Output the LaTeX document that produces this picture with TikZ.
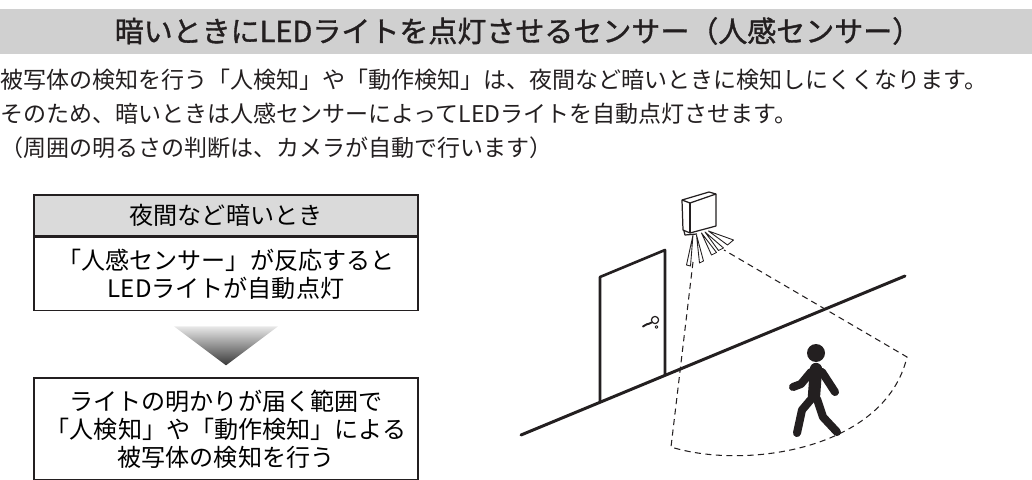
\documentclass[tikz,border=0pt]{standalone}
\usepackage{fontspec}
\setmainfont{Noto Sans CJK JP}
\newfontfamily\headfont{Noto Sans CJK JP}[FakeBold=1.2]
\usetikzlibrary{positioning}
\definecolor{bargray}{RGB}{208,208,208}
\definecolor{headgray}{RGB}{218,218,218}
\definecolor{ink}{RGB}{35,31,32}
\tikzset{flowbox/.style={draw=ink,line width=0.9pt,minimum width=7.68cm,align=center,inner sep=0pt,
		font=\fontsize{13.7}{16}\selectfont},
	 bodytext/.style={anchor=west,inner sep=0pt,text=ink,font=\fontsize{13.1}{16}\selectfont},
	 wall/.style={ink,line width=1.5pt,line cap=round,line join=round},
	 thinline/.style={ink,line width=0.7pt,line join=round},
	 beam/.style={ink,line width=0.5pt,fill=white,line join=round},
	 zone/.style={ink,line width=0.6pt,dash pattern=on 3.5pt off 2.5pt},
	 limb/.style={ink,line width=4.6pt,line cap=round,line join=round}
	 }

\begin{document}
\begin{tikzpicture}[x=0.02cm,y=-0.02cm] % pixel grid, y downwards
	\useasboundingbox (0,0) rectangle (1032,480);
	% heading band
	\fill[bargray] (0,9) rectangle (1032,54);
	\node[text=ink,font=\fontsize{16.5}{20}\headfont] (title) at (518,31) {暗いときにLEDライトを点灯させるセンサー（人感センサー）};
	\node[bodytext] (line1) at (0,80) {被写体の検知を行う「人検知」や「動作検知」は、夜間など暗いときに検知しにくくなります。};
	\node[bodytext] (line2) at (0,114) {そのため、暗いときは人感センサーによってLEDライトを自動点灯させます。};
	\node[bodytext] (line3) at (0,148) {（周囲の明るさの判断は、カメラが自動で行います）};
	% flow on the left
	\node[flowbox,fill=headgray,minimum height=0.82cm] (night) at (226,215.5) {夜間など暗いとき};
	\node[flowbox,minimum height=1.46cm,below=0pt of night] (sensor) {「人感センサー」が反応すると\\LEDライトが自動点灯};
	\coordinate[below=0.3cm of sensor] (tri);
	\shade[top color=gray!18,bottom color=black!78] (tri) ++(-52,0) -- ++(104,0) -- ++(-52,39) -- cycle;
	\node[flowbox,minimum height=2.04cm,below=1.32cm of sensor] (detect) {ライトの明かりが届く範囲で\\「人検知」や「動作検知」による\\被写体の検知を行う};
	% scene: floor, door
	\coordinate (fl) at (521,435);
	\coordinate (fr) at (905,276);
	\coordinate (dbl) at (600,402);
	\coordinate (dtl) at (600,277);
	\coordinate (dtr) at (665,250);
	\coordinate (dbr) at (665,375);
	% detection range
	\coordinate (zl) at (693,262);
	\coordinate (zr) at (724,250);
	\coordinate (zbl) at (671,447);
	\coordinate (zbr) at (907,357);
	\draw[zone] (zl) -- (zbl) .. controls (745,470) and (885,450) .. (zbr) -- (zr);
	\draw[wall,line width=1.7pt] (fl) to (fr);
	\draw[wall] (dbl) to (dtl) to (dtr) to (dbr);
	% door handle
	\draw[thinline] (655,320) circle (3.6);
	\draw[ink,line width=1.1pt,line cap=round] (651.5,322.5) .. controls (648,325) and (645,323.5) .. (643,326.5);
	\draw[thinline,line width=0.5pt] (656.5,327) circle (1.4);
	% camera with light
	\draw[thinline,fill=white] (682,200) -- (709,192) -- (716,194) -- (716,226) -- (690,233) -- (683,230) -- cycle;
	\draw[thinline] (682,200) -- (690,203) -- (716,194);
	\draw[thinline] (690,203) -- (690,233);
	\draw[thinline] (684,231) -- (685,235) -- (697,234);
	\draw[beam] (693,235) -- (686.5,265) -- (690.5,266) -- cycle;
	\draw[beam] (696.5,235) -- (699.5,263) -- (703.5,261) -- cycle;
	\draw[beam] (701.5,233) -- (711.5,255) -- (716.5,252.5) -- cycle;
	\draw[beam] (705,232) -- (718.5,250.5) -- (723.5,248) -- cycle;
	\draw[beam] (708.5,231) -- (727.5,245) -- (733.5,240) -- cycle;
	% walking person
	\fill[ink] (816,353) circle (9);
	\draw[limb,line width=7pt] (816,369) to (814,396);
	\draw[limb] (811,372) to (801,384) to (793,387);
	\draw[limb] (822,372) to (835,392);
	\draw[limb] (813,397) to (802,410) to (797,433);
	\draw[limb] (817,399) to (823,417) to (837,432);
\end{tikzpicture}
\end{document}
